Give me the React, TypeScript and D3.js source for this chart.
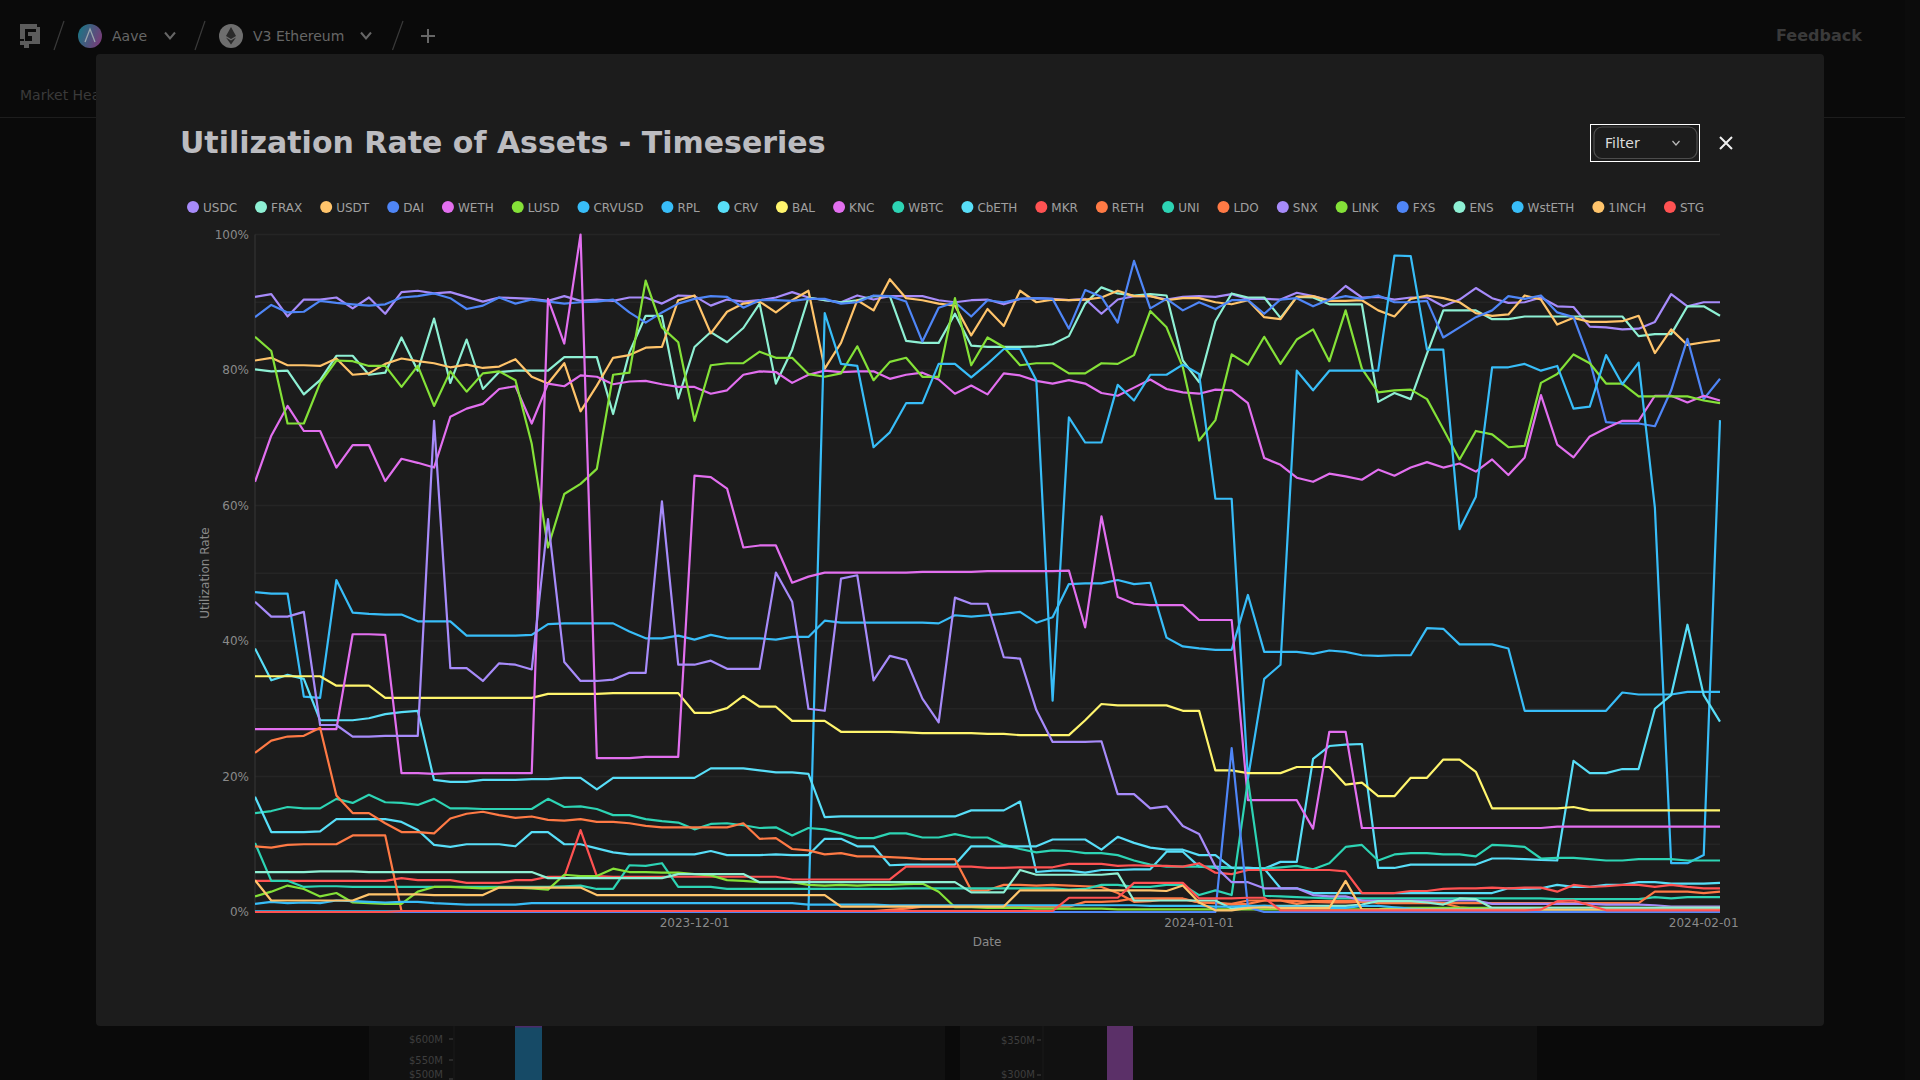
import * as d3 from 'd3';

const startDate = '2023-11-04';
const endDate = '2024-02-03';
const xTickLabels = ['2023-12-01', '2024-01-01', '2024-02-01'];
const yTicksPct = [0, 10, 20, 30, 40, 50, 60, 70, 80, 90, 100];

const USDC = [
  90.8,91.2,87.9,90.4,90.4,90.7,89.1,90.7,88.3,91.5,
  91.7,91.3,91.5,90.8,90.1,90.7,90.6,90.5,90.2,90.9,
  90.2,90.4,90.2,90.7,90.7,89.8,91,90.9,89.5,90.4,
  90.1,90.3,90.7,91.5,90.7,90.3,90,91,90.4,90.9,
  90.9,90.9,90.3,90,90.3,90.4,89.7,90.5,90.6,90.5,
  90.3,90.5,88.3,90.4,90.9,90.9,90.4,90.8,90.9,90.8,
  91.2,90.5,90.5,90.4,91.4,90.9,90.3,92.4,90.7,90.8,
  90.4,90.7,90.7,89.4,90.4,92.1,90.6,89.9,90,90.7,
  89.4,89.3,86.4,86.3,86,86.1,87.1,91.2,89.4,90,90,
];
const FRAX = [
  80.1,79.8,79.9,76.4,78.5,82.1,82.1,79.3,79.6,84.8,
  79.9,87.6,78.1,84.5,77.2,79.7,79.9,79.9,79.9,81.9,
  81.9,81.9,73.5,82.6,88,88,75.8,83.4,85.6,84.1,
  86.2,89.8,78,83,90.7,90.3,90,90.3,90.9,90.9,
  84.3,84,84,88.3,83.6,83.4,83.4,83.4,83.5,83.8,
  85,89.8,92.2,91.3,91,91.2,91,81.4,78.2,87.2,
  91.3,90.7,90.7,87.7,90.8,90.7,89.7,89.7,89.7,75.3,
  76.6,75.7,82.4,88.8,88.8,88.8,87.5,87.5,87.9,87.9,
  87.9,87.9,87.9,87.9,87.9,85,85.3,85.3,89.4,89.4,88,
];
const USDT = [
  81.4,81.8,80.7,80.7,80.6,81.7,79.3,79.5,80.9,81.7,
  81.3,81,80.4,80.8,80.3,80.5,81.6,79,78,81,
  73.9,77.7,81.8,82.2,83.3,83.4,90.3,91,85.4,88.6,
  89.8,90.1,88.5,90.3,91.7,80.2,84,90.3,88.8,93.4,
  90.6,90.3,89.8,89.5,85.1,89,86.5,91.7,90,90.4,
  90.3,90.4,90.7,91.7,90.9,90.9,90.3,90.6,90.6,90,
  89.7,90.3,87.8,87.5,90.8,90.9,90.2,90.2,90.3,88.8,
  87.9,90.5,91,90.6,90,88.4,88,88.2,91,90.4,
  86.7,87.7,87.1,87.1,87.2,88,82.5,86,83.7,84.1,84.4,
];
const DAI = [
  87.8,89.6,88.5,88.6,90.2,89.9,89.7,89.5,89.7,90.7,
  90.9,91.3,90.6,89,89.5,90.7,89.8,90.4,90.1,89.8,
  90,90.1,90.4,88.5,87,88.5,89.8,90.5,90.9,90.8,
  89.2,90.3,90.3,90.2,90.5,90.5,89.8,90,91,90.9,
  90.1,84.2,89.2,90,87.9,90.3,90,90.5,90.6,90.5,
  86.1,91.8,90.8,87,96.1,89.1,90.5,88.8,90,89,
  90.3,90.3,88.3,90.4,90.6,89.4,90.4,90.9,90.5,91,
  90,90,90.2,84.8,86.3,87.8,88.8,90.9,90.5,91,
  88.5,87.8,81.4,72.3,72.1,72.1,71.7,77,84.6,75.7,78.7,
];
const WETH = [
  63.5,70.3,74.7,71,71,65.6,68.9,68.9,63.6,66.9,
  66.3,65.6,73.1,74.3,75,77.2,77.6,72.1,78,77.6,
  79.2,79,77.9,78.3,78.4,77.9,77.5,77.5,76.5,77,
  79.3,79.8,79.7,78.1,79.3,79.9,79.7,79.8,79.8,78.7,
  79.3,79.6,78.6,76.5,77.7,76.4,79.5,79.2,78.4,78,
  78.5,78,76.6,76.2,77.4,78.6,77.2,76.7,76.5,77.1,
  77,75.1,67,66,64.1,63.5,64.7,64.3,63.8,65.3,
  64.4,65.6,66.4,65.6,66.2,65,66.8,64.5,67.1,76.3,
  69,67.1,70.2,71.4,72.5,72.5,76.2,76.2,75.2,76.2,75.5,
];
const LUSD = [
  84.9,82.8,72.1,72.1,78.1,81.4,81.3,80.6,80.6,77.5,
  80.6,74.7,79.8,76.8,79.5,79.8,78.5,69.1,53.8,61.7,
  63.2,65.4,79.3,79.6,93.2,86.3,84.1,72.5,80.7,81,
  81,82.7,81.8,81.8,79.4,79,79.5,83.5,78.5,81.2,
  81.8,79,79,90.6,80.7,84.8,83.4,80.7,81,81,
  79.5,79.5,81,80.9,82.2,88.7,86.3,80.4,69.6,72.6,
  82.3,80.8,84.9,80.9,84.5,86,81.3,88.8,80.2,76.7,
  77,77.1,75.7,71.3,66.8,71,70.5,68.6,68.8,78.1,
  79.4,82.3,81,78,78,76.1,76.1,76.1,76.1,75.5,75.1,
];
const CRVUSD = [
  47.2,47,47,31.8,31.6,49,44.2,44,43.9,43.9,
  42.9,42.9,42.9,40.8,40.8,40.8,40.8,40.9,42.5,42.6,
  42.6,42.6,42.6,41.4,40.4,40.4,40.8,40.2,40.9,40.4,
  40.4,40.4,40.2,40.6,40.6,43,42.7,42.7,42.7,42.7,
  42.7,42.7,42.6,43.8,43.6,43.8,44,44.3,42.7,43.5,
  48.4,48.5,48.5,49,48.4,48.6,40.5,39.2,38.9,38.7,
  38.7,46.8,38.4,38.4,38.4,38.1,38.6,38.4,37.9,37.8,
  37.9,37.9,41.9,41.8,39.5,39.5,39.5,38.9,29.7,29.7,
  29.7,29.7,29.7,29.7,32.4,32.1,32.1,32.1,32.5,32.5,32.5,
];
const RPL = [
  0.1,0.1,0.1,0.1,0.1,0.1,0.1,0.1,0.1,0.1,
  0.1,0.1,0.1,0.1,0.1,0.1,0.1,0.1,0.1,0.1,
  0.1,0.1,0.1,0.1,0.1,0.1,0.1,0.1,0.1,0.1,
  0.1,0.1,0.1,0.1,0.1,88.4,80.9,80.6,68.6,70.8,
  75.1,75.1,80.9,80.9,78.9,80.9,83.1,83.1,78.5,31.2,
  73,69.3,69.3,77.8,75.5,79.3,79.3,80.8,79.4,61,
  61,19.7,34.4,36.5,79.9,77,79.9,79.9,79.9,79.9,
  96.9,96.8,83,83,56.5,61.3,80.4,80.4,80.9,79.9,
  80.6,74.3,74.6,82.2,77.9,81.1,59.7,7.2,7.2,8.4,72.6,
];
const CRV = [
  38.9,34.2,35,34.4,28.3,28.3,28.3,28.6,29.2,29.5,
  29.7,19.5,19.2,19.2,19.5,19.5,19.5,19.6,19.6,19.8,
  19.8,18.1,19.8,19.8,19.8,19.8,19.8,19.8,21.2,21.2,
  21.2,20.9,20.6,20.6,20.4,14,14.1,14.1,14.1,14.1,
  14.1,14.1,14.1,14.1,15,15,15,16.3,5.9,6.1,
  6.1,5.8,6.2,6.2,6.3,6.3,8.9,8.9,6.7,6.7,
  6.5,6.5,6.4,7.4,7.4,22.6,24.5,24.7,24.8,6.5,
  6.5,7,7,7,7,7,7.9,7.9,7.8,7.7,
  7.6,22.3,20.5,20.5,21.1,21.1,30,32,42.4,32,28.1,
];
const BAL = [
  34.8,34.8,34.8,34.8,34.8,33.4,33.4,33.4,31.6,31.6,
  31.6,31.6,31.6,31.6,31.6,31.6,31.6,31.6,32.2,32.2,
  32.2,32.2,32.3,32.3,32.3,32.3,32.3,29.4,29.4,30.1,
  31.9,30.3,30.3,28.2,28.2,28.2,26.6,26.6,26.6,26.6,
  26.5,26.4,26.4,26.4,26.4,26.3,26.3,26.1,26.1,26.1,
  26.1,28.3,30.7,30.5,30.5,30.5,30.5,29.7,29.7,20.9,
  20.9,20.5,20.5,20.5,21.4,21.4,21.4,18.8,19.1,17.1,
  17.1,19.8,19.8,22.5,22.5,20.7,15.3,15.3,15.3,15.3,
  15.3,15.5,15,15,15,15,15,15,15,15,15,
];
const KNC = [
  27,27,27,27,27,27,41,41,40.9,20.5,
  20.5,20.4,20.5,20.5,20.5,20.5,20.5,20.5,90.5,83.9,
  100,22.7,22.7,22.7,22.9,22.9,22.9,64.4,64.2,62.5,
  53.8,54.1,54.1,48.6,49.5,50.1,50.1,50.1,50.1,50.1,
  50.1,50.2,50.2,50.2,50.2,50.3,50.3,50.3,50.3,50.3,
  50.4,42,58.4,46.5,45.5,45.3,45.3,45.3,43.1,43.1,
  43.1,16.5,16.5,16.5,16.5,12.3,26.6,26.6,12.4,12.4,
  12.4,12.4,12.4,12.4,12.4,12.4,12.4,12.4,12.4,12.4,
  12.6,12.6,12.6,12.6,12.6,12.6,12.6,12.6,12.6,12.6,12.6,
];
const WBTC = [
  14.6,14.9,15.5,15.3,15.3,16.7,16.1,17.3,16.2,16.1,
  15.8,16.7,15.3,15.3,15.2,15.2,15.2,15.2,16.7,15.5,
  15.6,15.2,14.3,14.3,13.7,13.4,13.2,12.2,13,13.1,
  12.8,12.4,12.5,11.3,12.4,12.2,11.6,10.9,10.9,11.6,
  11.6,11,11,11.5,11,11,9.9,9.3,8.8,9.1,
  9,8.7,8.7,8.4,7.6,7,6.7,6.7,6.7,6.5,
  6.5,6.4,6.4,6.6,6.8,6.3,7.2,9.6,9.9,7.6,
  8.5,8.7,8.7,8.5,8.5,8.2,9.9,9.8,9.6,7.9,
  8,8,7.8,7.6,7.6,7.8,7.8,7.8,7.6,7.6,7.6,
];
const CbETH = [
  17,11.8,11.8,11.8,11.9,13.7,13.7,13.7,13.7,13.3,
  12.1,9.9,9.6,10,10,10,9.7,11.8,11.8,10,
  10,9.4,8.8,8.5,8.5,8.5,8.5,8.5,9,8.4,
  8.4,8.4,8.5,8.4,8.4,10.8,10.8,9.7,9.7,6.9,
  7,7,7,7,9.7,9.7,9.7,9.7,9.7,10.7,
  10.7,10.7,9.2,11.1,10.2,9.5,9.2,9.2,8.4,8.4,
  6.5,6.5,6.4,3.5,3.5,2.8,2.8,2.8,2.8,2.8,
  2.8,2.8,2.8,2.8,2.8,2.8,2.8,3.5,3.4,3.5,
  4,3.7,3.7,4,4,4.4,4.4,4.2,4.2,4.2,4.3,
];
const MKR = [
  4.6,4.6,4.6,4.6,4.6,4.6,4.6,4.6,4.6,5,
  4.7,4.7,4.7,4.3,4.3,4.3,4.7,4.7,5.2,5.2,
  12.1,5.3,5.2,5.2,5.2,5.2,5.2,5.2,5.2,5.2,
  5.2,5.2,5.2,4.8,4.8,4.8,4.8,4.8,4.8,4.8,
  6.7,6.7,6.7,6.7,6.7,6.5,6.5,6.6,6.6,6.6,
  7.1,7.1,7.1,6.8,6.9,6.8,6.8,6.7,7.2,5.8,
  5.6,6.2,6.2,6.2,6.2,6.2,6.2,6,2.8,2.8,
  2.8,3.1,3.1,3.4,3.5,3.5,3.6,3.5,3.6,3.6,
  3,4,3.7,3.8,4,4,3.7,4,3.7,3.5,3.5,
];
const RETH = [
  23.5,25.3,25.9,26,27.2,17.2,14.6,14.6,13.1,11.8,
  11.8,11.6,13.8,14.5,14.8,14.3,13.9,14.1,13.6,13.5,
  13.7,13.3,13.3,13.1,12.7,12.5,12.5,12.5,12.5,12.5,
  13.1,10.8,10.9,9.3,9.1,8.5,8.7,8.2,8.2,8.1,
  8,7.8,7.8,7.8,3.2,3.2,4,4,3.9,4,
  3.9,3.8,3.7,2.8,1.5,1.6,1.9,1.9,1.4,1.4,
  1.1,1.2,1.7,1.7,1.6,1.5,1.4,1.4,1.5,1.5,
  1.5,1.5,1.5,1.3,0.7,0.5,0.5,0.5,0.5,0.5,
  0.5,0.5,0.5,0.5,0.5,0.5,0.5,0.5,0.5,0.5,0.5,
];
const UNI = [
  10.2,4.6,4.6,3.7,3.8,3.8,3.7,3.7,3.7,3.7,
  3.7,3.7,3.7,3.7,3.7,3.7,3.7,3.7,3.7,3.8,
  3.9,3.4,3.4,6.9,6.8,7.2,3.7,3.7,3.7,3.4,
  3.4,3.4,3.4,3.4,3.4,3.4,3.4,3.4,3.4,3.4,
  3.5,3.5,3.5,3.5,3.5,3.5,3.5,3.5,3.5,3.5,
  3.3,3.4,4,4,3.7,3.7,4,4,2.5,3.2,
  2.5,19.5,2.4,2.3,2.2,2.1,2,2,2,2,
  2,2,2,2,2,2,2,2,2,2,
  1.9,1.9,1.9,1.9,1.9,1.9,2.2,2,2.2,2.2,2.2,
];
const LDO = [
  9.7,9.5,9.9,10,10,10,11.3,11.3,11.3,0.15,
  0.15,0.15,0.15,0.15,0.15,0.15,0.15,0.15,0.15,0.15,
  0.15,0.15,0.15,0.15,0.15,0.15,0.15,0.15,0.15,0.15,
  0.15,0.15,0.15,0.15,0.15,0.15,0.15,0.15,0.15,0.3,
  0.5,0.8,0.8,0.8,0.8,0.8,0.8,0.8,0.8,0.8,
  0.8,1.5,1.5,1.6,2,2,2,2,1.4,1.3,
  1.2,1.7,1.7,1.7,1.2,1.6,1.6,1.6,1.7,1.3,
  1.3,1.3,1.3,1.3,1.3,1.3,1.3,1.3,1.3,1.3,
  1.3,1.3,1.3,1.3,1.3,1.3,3,3,3,2.8,3,
];
const SNX = [
  45.8,43.6,43.6,44.3,27.6,27.6,25.9,25.9,26,26,
  26,72.5,36,36,34.1,36.7,36.5,35.8,58,36.9,
  34.1,34.1,34.3,35.3,35.3,60.6,36.5,36.5,37.1,35.9,
  35.9,35.9,50.1,45.8,30,29.7,49.2,49.7,34.2,37.8,
  37.2,31.5,28,46.4,45.5,45.5,37.6,37.4,29.8,25.1,
  25.1,25.1,25.2,17.4,17.4,15.3,15.6,12.7,11.5,6.7,
  4.4,4.4,3.5,3.5,3.5,2.5,2.3,2.3,1.7,1.7,
  1.7,1.7,1.7,1.7,1.7,1.7,1.2,1.2,1.2,1.2,
  1.2,1.2,1.2,1.1,1.1,1.1,1,0.8,0.8,0.8,0.8,
];
const LINK = [
  2.3,3,3.9,3.4,2.3,2.8,1.4,1.3,1.2,1.2,
  3,3.7,3.7,3.6,3.5,3.6,3.6,3.5,3.3,5.5,
  5.3,5.3,6.4,5.9,5.9,5.8,5.8,5.6,5.4,4.7,
  4.6,4.4,4.4,4.4,4,3.9,4,3.9,4,4,
  4.1,4.2,3,0.7,0.7,0.6,0.6,0.6,0.5,0.5,
  0.5,0.5,0.5,0.4,0.4,0.4,0.4,0.4,0.4,0.4,
  0.4,0.4,0.4,0.4,0.4,0.4,0.4,0.4,0.4,0.4,
  0.6,0.6,0.6,0.6,0.6,0.6,0.6,0.6,0.6,0.6,
  0.6,0.6,0.6,0.6,0.6,0.6,0.6,0.6,0.6,0.6,0.6,
];
const FXS = [
  0,0,0,0,0,0,0,0,0,0,
  0,0,0,0,0,0,0,0,0,0,
  0,0,0,0,0,0,0,0,0,0,
  0,0,0,0,0,0,0,0,0,0,
  0,0,0,0,0,0,0,0,0,0,
  0,0,0,0,0,0,0,0,0,0,
  24.2,0.7,0,0,0,0,0,0,0,0,
  0,0,0,0,0,0,0,0,0,0,
  0,0,0,0,0,0,0,0,0,0,0,
];
const ENS = [
  5.9,5.9,5.9,5.9,6,6,6,5.9,5.9,5.9,
  5.9,5.9,5.9,5.9,5.9,5.9,5.9,5.9,5,5,
  5,5,5,5,5,5,5.6,5.6,5.6,5.6,
  5.6,4.4,4.4,4.4,4.4,4.4,4.4,4.4,4.4,4.4,
  4.4,4.4,4.4,4.4,2.9,2.9,2.9,6.2,5.5,5.5,
  5.5,5.5,5.5,5.7,1.7,1.7,1.7,1.7,1.7,1.7,
  0.5,0.8,0.9,0.9,0.9,0.9,0.9,0.9,1.1,1.6,
  1.6,1.6,1.4,1.1,2,1.9,0.6,0.6,0.6,0.6,
  0.6,0.6,0.6,0.6,0.6,0.6,0.6,0.6,0.6,0.6,0.6,
];
const WstETH = [
  1.2,1.5,1.3,1.4,1.3,1.7,1.6,1.5,1.4,1.5,
  1.5,1.3,1.2,1.1,1.1,1.1,1.1,1.3,1.3,1.3,
  1.3,1.3,1.3,1.3,1.3,1.3,1.3,1.3,1.3,1.3,
  1.3,1.3,1.3,1.3,1.1,1.1,1.1,1.1,1.1,1,
  1,1,1,1,1,1,1,1,1,1,
  1,1,1,1,1,0.9,0.9,0.9,0.9,0.8,
  0.8,0.9,0.9,0.8,0.8,0.7,0.6,0.6,0.9,0.9,
  0.7,0.5,0.4,0.4,0.4,0.4,0.4,0.4,0.4,0.4,
  0.4,0.4,0.4,0.4,0.4,0.4,0.4,0.4,0.4,0.4,0.4,
];
const ONEINCH = [
  4.7,1.7,1.7,1.7,1.7,1.7,1.7,2.6,2.6,2.6,
  2.6,2.5,2.5,2.5,2.5,3.6,3.6,3.6,3.6,3.6,
  3.6,2.5,2.5,2.5,2.5,2.5,2.5,2.5,2.5,2.5,
  2.5,2.5,2.5,2.5,2.5,2.5,0.8,0.8,0.8,0.8,
  0.8,0.8,0.8,0.8,0.8,0.8,0.8,3.2,3.2,3.2,
  3.2,3.2,3.2,3.2,3.2,3.2,3.1,3.9,1.4,0.25,
  0.25,0.6,0.7,0.6,0.6,0.6,0.6,4.6,0.35,0.35,
  0.35,0.35,0.35,0.35,0.35,0.35,0.35,0.35,0.35,0.35,
  0.35,0.35,0.35,0.35,0.35,0.35,0.35,0.35,0.35,0.35,0.35,
];
const STG = [
  0,0,0,0,0,0,0,0,0,0.15,
  0.15,0.15,0.15,0.15,0.15,0.15,0.15,0.15,0.15,0.15,
  0.15,0.15,0.15,0.15,0.15,0.15,0.15,0.15,0.15,0.15,
  0.15,0.15,0.15,0.15,0.15,0.15,0.15,0.15,0.15,0.15,
  0.15,0.15,0.15,0.15,0.15,0.15,0.15,0.15,0.15,0.15,
  2.1,2.1,2.1,2.1,4.3,4.3,4.3,4.3,2,2,
  2,2.1,2.1,0.25,0.25,0.25,0.25,0.25,0.25,0.25,
  0.25,0.25,0.25,0.25,0.25,0.25,0.25,0.25,0.25,0.35,
  1.6,1.7,1,0.25,0.25,0.25,0.25,0.25,0.25,0.25,0.25,
];

const PURPLE = '#a78bfa';
const MINT = '#8ef0d4';
const AMBER = '#ffc46b';
const BLUE = '#4f86f7';
const PINK = '#e26fef';
const GREEN = '#84e138';
const SKY = '#38bdf8';
const CYAN = '#58def8';
const YELLOW = '#fff56d';
const TEAL = '#2dd4b4';
const RED = '#ff5252';
const ORANGE = '#ff7a45';

const seriesNames = ['USDC','FRAX','USDT','DAI','WETH','LUSD','CRVUSD','RPL','CRV','BAL','KNC','WBTC','CbETH','MKR','RETH','UNI','LDO','SNX','LINK','FXS','ENS','WstETH','1INCH','STG'];
const seriesValues = [USDC,FRAX,USDT,DAI,WETH,LUSD,CRVUSD,RPL,CRV,BAL,KNC,WBTC,CbETH,MKR,RETH,UNI,LDO,SNX,LINK,FXS,ENS,WstETH,ONEINCH,STG];
const seriesColors = [PURPLE,MINT,AMBER,BLUE,PINK,GREEN,SKY,SKY,CYAN,YELLOW,PINK,TEAL,CYAN,RED,ORANGE,TEAL,ORANGE,PURPLE,GREEN,BLUE,MINT,SKY,AMBER,RED];

const bgPanelTicksLeft = ['$600M', '$550M', '$500M'];
const bgPanelTicksRight = ['$350M', '$300M'];

const FONT = '"DejaVu Sans", sans-serif';
const W = 1920;
const H = 1080;
const plot = { left: 255, right: 1720, top: 234.5, bottom: 912 };

const parseDay = d3.utcParse('%Y-%m-%d');
const fmtDay = d3.utcFormat('%Y-%m-%d');

function measure(text: string) {
  const ctx = document.createElement('canvas').getContext('2d');
  if (!ctx) return text.length * 8;
  ctx.font = '12px "DejaVu Sans"';
  return ctx.measureText(text).width;
}

export default function App() {
  const days = d3.utcDay.range(parseDay(startDate)!, parseDay(endDate)!);
  const x = d3.scaleUtc().domain([days[0], days[days.length - 1]]).range([plot.left, plot.right]);
  const y = d3.scaleLinear().domain([0, 100]).range([plot.bottom, plot.top]);
  const lineGen = d3.line<number>().x((_, i) => x(days[i])).y((d) => y(d));

  let cursor = 193;
  const legend = seriesNames.map((name, i) => {
    const cx = cursor;
    cursor += 10 + measure(name) + 24;
    return { name, cx, color: seriesColors[i] };
  });

  return (
    <svg
      width={W}
      height={H}
      viewBox={`0 0 ${W} ${H}`}
      style={{ position: 'fixed', left: 0, top: 0, display: 'block', fontFamily: FONT }}
    >
      <defs>
        <linearGradient id="aaveIcon" x1="0" y1="0.3" x2="1" y2="0.7">
          <stop offset="0%" stopColor="#1c7484" />
          <stop offset="100%" stopColor="#7a3a78" />
        </linearGradient>
        <clipPath id="plotClip">
          <rect x={plot.left} y={plot.top - 2} width={plot.right - plot.left + 1} height={plot.bottom - plot.top + 3} />
        </clipPath>
      </defs>

      {/* page behind the modal, dimmed */}
      <rect width={W} height={H} fill="#0a0a0a" />
      <rect x={1905} width={15} height={H} fill="#0c0c0c" />

      <path
        d="M20 24h17v3h3v5h-4v-3h-11v12h7v-5h-4v-4h12v12h-11v4h-5v-3h-4v-4h4v-2h-4z"
        fill="#5c5c5c"
      />
      <g stroke="#3a3a3a" strokeWidth={1.2}>
        <line x1={64} y1={21} x2={54} y2={50} />
        <line x1={205} y1={21} x2={195} y2={50} />
        <line x1={403} y1={21} x2={392.5} y2={50} />
      </g>
      <circle cx={90} cy={36} r={12} fill="url(#aaveIcon)" />
      <path d="M85 42l5-13 5 13" fill="none" stroke="#9aa6ae" strokeWidth={1.3} />
      <text x={112} y={36} dy="0.35em" fontSize={14} fill="#666">Aave</text>
      <path d="M165 32.5l5 6 5-6" fill="none" stroke="#666" strokeWidth={2} />
      <circle cx={231} cy={36} r={12} fill="#6e6e6e" />
      <path d="M231 27l5 9-5 3-5-3zM231 40.5l5-3-5 7-5-7z" fill="#2a2a2a" />
      <text x={253} y={36} dy="0.35em" fontSize={14} fill="#666">V3 Ethereum</text>
      <path d="M361 32.5l5 6 5-6" fill="none" stroke="#666" strokeWidth={2} />
      <path d="M428 29v14M421 36h14" stroke="#666" strokeWidth={2} />
      <text x={1776} y={35} dy="0.35em" fontSize={16} fontWeight={700} fill="#3a3a3a">Feedback</text>
      <text x={20} y={95} dy="0.35em" fontSize={14} fill="#3a3a3a">Market Health</text>
      <line x1={0} x2={1905} y1={117.5} y2={117.5} stroke="#1d1d1d" />

      <rect x={369} y={1020} width={576} height={60} fill="#111111" />
      <rect x={960} y={1020} width={577} height={60} fill="#111111" />
      <line x1={454} x2={454} y1={1026} y2={1080} stroke="#1a1a1a" />
      <line x1={1043} x2={1043} y1={1026} y2={1080} stroke="#1a1a1a" />
      <rect x={515} y={1020} width={27} height={60} fill="#164a66" />
      <rect x={515} y={1026} width={27} height={1.5} fill="#4b2c6b" />
      <rect x={1107} y={1020} width={26} height={60} fill="#5b3068" />
      {bgPanelTicksLeft.map((t, i) => (
        <g key={t}>
          <line x1={449} x2={453} y1={[1039, 1060, 1079][i]} y2={[1039, 1060, 1079][i]} stroke="#444" />
          <text x={443} y={[1039, 1060, 1074][i]} dy="0.35em" fontSize={10} textAnchor="end" fill="#3e3e3e">{t}</text>
        </g>
      ))}
      {bgPanelTicksRight.map((t, i) => (
        <g key={t}>
          <line x1={1037} x2={1041} y1={[1040, 1075][i]} y2={[1040, 1075][i]} stroke="#444" />
          <text x={1035} y={[1040, 1074][i]} dy="0.35em" fontSize={10} textAnchor="end" fill="#3e3e3e">{t}</text>
        </g>
      ))}

      {/* modal */}
      <rect x={96} y={54} width={1728} height={972} rx={4} fill="#1c1c1c" />
      <text x={180} y={142} dy="0.35em" fontSize={30} fontWeight={700} fill="#bcbcc0">
        Utilization Rate of Assets - Timeseries
      </text>

      <rect x={1590.5} y={124.5} width={109} height={37} fill="none" stroke="#ffffff" strokeWidth={1} />
      <rect x={1594} y={127} width={103} height={31.5} rx={8} fill="none" stroke="#4c4c4c" strokeWidth={1.2} />
      <text x={1605} y={143} dy="0.35em" fontSize={14} fill="#dddddd">Filter</text>
      <path d="M1672.5 141l3.5 4 3.5-4" fill="none" stroke="#bbbbbb" strokeWidth={1.2} />
      <path d="M1720 137l12 12M1732 137l-12 12" stroke="#f0f0f0" strokeWidth={2} />

      {/* legend */}
      {legend.map((l) => (
        <g key={l.name}>
          <circle cx={l.cx} cy={207} r={6} fill={l.color} />
          <text x={l.cx + 10} y={208} dy="0.35em" fontSize={12} fill="#a0a0a0">{l.name}</text>
        </g>
      ))}

      {/* grid and axes */}
      {yTicksPct.map((t) => (
        <line key={t} x1={plot.left} x2={plot.right} y1={y(t)} y2={y(t)} stroke="#252525" strokeWidth={1.5} />
      ))}
      <line x1={plot.left} x2={plot.left} y1={plot.top} y2={plot.bottom} stroke="#333333" strokeWidth={1.2} />
      {yTicksPct.filter((t) => t % 20 === 0).map((t) => (
        <text key={t} x={249} y={y(t)} dy="0.35em" fontSize={12} textAnchor="end" fill="#8a8a8a">{`${t}%`}</text>
      ))}
      {xTickLabels.map((t) => (
        <text key={t} x={x(parseDay(t)!)} y={923} dy="0.35em" fontSize={12} textAnchor="middle" fill="#8a8a8a">
          {fmtDay(parseDay(t)!)}
        </text>
      ))}
      <text x={987} y={942} dy="0.35em" fontSize={12} textAnchor="middle" fill="#8a8a8a">Date</text>
      <text
        transform="translate(205,573) rotate(-90)"
        dy="0.35em"
        fontSize={12}
        textAnchor="middle"
        fill="#8a8a8a"
      >
        Utilization Rate
      </text>

      {/* series */}
      <g clipPath="url(#plotClip)" fill="none" strokeWidth={2.2} strokeLinejoin="round">
        {seriesNames.map((name, i) => (
          <path key={name} d={lineGen(seriesValues[i]) ?? ''} stroke={seriesColors[i]} />
        ))}
      </g>
    </svg>
  );
}
